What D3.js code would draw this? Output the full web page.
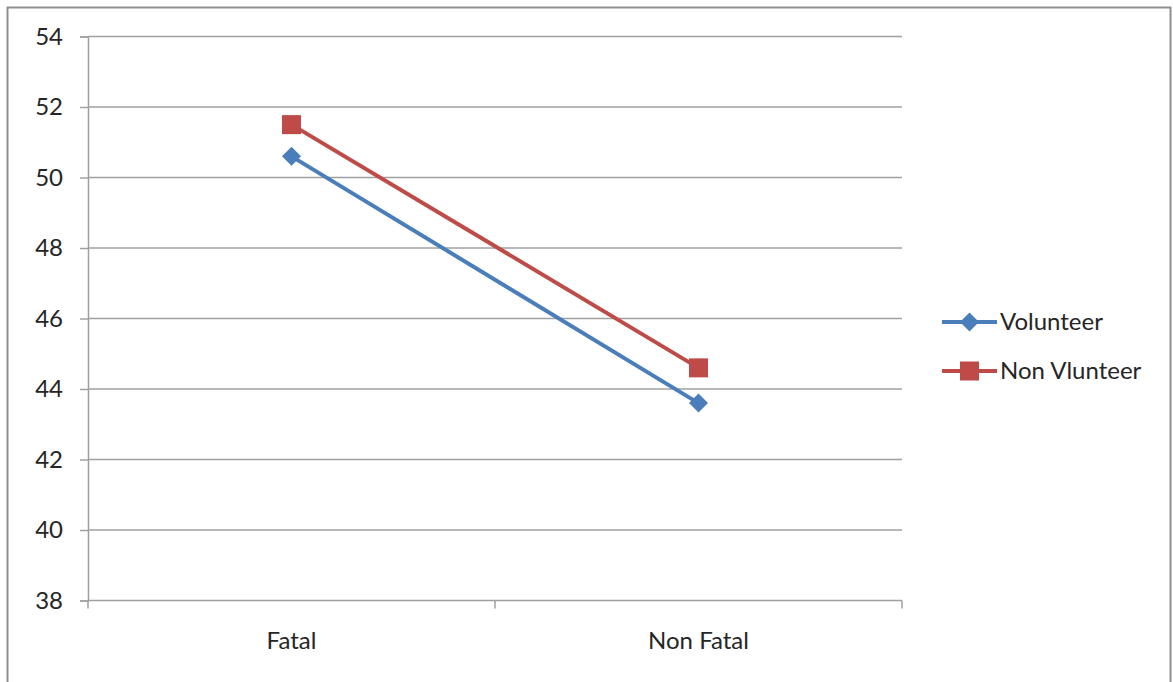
<!DOCTYPE html>
<html>
<head>
<meta charset="utf-8">
<script src="https://cdn.jsdelivr.net/npm/d3@7"></script>
<style>
  html, body { margin: 0; padding: 0; background: #ffffff; }
  svg { display: block; }
  text { font-family: Lato, "Open Sans", "Liberation Sans", sans-serif; fill: #262626; }
</style>
</head>
<body>
<svg id="chart" width="1173" height="682"></svg>
<script>
// Chart data
const categories = ["Fatal", "Non Fatal"];
const seriesNames = ["Volunteer", "Non Vlunteer"];
const volunteer = [50.6, 43.6];
const nonVolunteer = [51.5, 44.6];
const yTicks = [38, 40, 42, 44, 46, 48, 50, 52, 54];

const series = [
  { name: seriesNames[0], values: volunteer, color: "#4a7ebb", marker: "diamond" },
  { name: seriesNames[1], values: nonVolunteer, color: "#be4b48", marker: "square" }
];

const svg = d3.select("#chart");
const FONT = 24;

// Outer frame
svg.append("rect")
  .attr("x", 7.5).attr("y", 7.5)
  .attr("width", 1163).attr("height", 690)
  .attr("fill", "#ffffff")
  .attr("stroke", "#8f8f8f").attr("stroke-width", 2);

const plot = { left: 88, right: 902, top: 36.5, bottom: 600.5 };

const x = d3.scaleBand().domain(categories).range([plot.left, plot.right]).paddingInner(0).paddingOuter(0);
const y = d3.scaleLinear().domain([38, 54]).range([plot.bottom, plot.top]);

// Horizontal gridlines
svg.append("g")
  .selectAll("line")
  .data(yTicks)
  .join("line")
  .attr("x1", plot.left).attr("x2", plot.right)
  .attr("y1", d => y(d)).attr("y2", d => y(d))
  .attr("stroke", "#a0a0a0").attr("stroke-width", 1.5);

// Y axis
const yAxis = svg.append("g")
  .attr("transform", `translate(${plot.left},0)`)
  .call(d3.axisLeft(y).tickValues(yTicks).tickSize(8).tickPadding(17).tickFormat(d3.format("d")));
yAxis.select(".domain").attr("stroke", "#a0a0a0").attr("stroke-width", 1.5);
yAxis.selectAll(".tick line").attr("stroke", "#a0a0a0").attr("stroke-width", 1.5);
yAxis.selectAll(".tick text")
  .attr("font-size", FONT)
  .attr("font-family", "Lato, 'Open Sans', sans-serif")
  .attr("fill", "#262626");

// X axis: category boundary ticks
const boundaries = [plot.left, plot.left + x.bandwidth(), plot.right];
svg.append("g")
  .selectAll("line")
  .data(boundaries)
  .join("line")
  .attr("x1", d => d).attr("x2", d => d)
  .attr("y1", plot.bottom).attr("y2", plot.bottom + 8)
  .attr("stroke", "#a0a0a0").attr("stroke-width", 1.5);

svg.append("g")
  .selectAll("text")
  .data(categories)
  .join("text")
  .attr("x", d => x(d) + x.bandwidth() / 2)
  .attr("y", 641)
  .attr("dy", "0.35em")
  .attr("text-anchor", "middle")
  .attr("font-size", FONT)
  .text(d => d);

const cx = d => x(d) + x.bandwidth() / 2;
const line = d3.line().x((v, i) => cx(categories[i])).y(v => y(v));

function drawMarker(g, type, px, py, color) {
  if (type === "square") {
    g.append("rect")
      .attr("x", px - 9.5).attr("y", py - 9.5)
      .attr("width", 19).attr("height", 19)
      .attr("fill", color);
  } else {
    const s = 9.5;
    g.append("path")
      .attr("d", `M${px},${py - s}L${px + s},${py}L${px},${py + s}L${px - s},${py}Z`)
      .attr("fill", color);
  }
}

series.forEach(s => {
  const g = svg.append("g");
  g.append("path")
    .datum(s.values)
    .attr("d", line)
    .attr("fill", "none")
    .attr("stroke", s.color)
    .attr("stroke-width", 4);
  s.values.forEach((v, i) => drawMarker(g, s.marker, cx(categories[i]), y(v), s.color));
});

// Legend
const legend = svg.append("g");
series.forEach((s, i) => {
  const ly = 322 + i * 49;
  legend.append("line")
    .attr("x1", 942).attr("x2", 997)
    .attr("y1", ly).attr("y2", ly)
    .attr("stroke", s.color).attr("stroke-width", 4);
  drawMarker(legend, s.marker, 969.5, ly, s.color);
  legend.append("text")
    .attr("x", 1000).attr("y", ly)
    .attr("dy", "0.35em")
    .attr("font-size", FONT)
    .text(s.name);
});
</script>
</body>
</html>
